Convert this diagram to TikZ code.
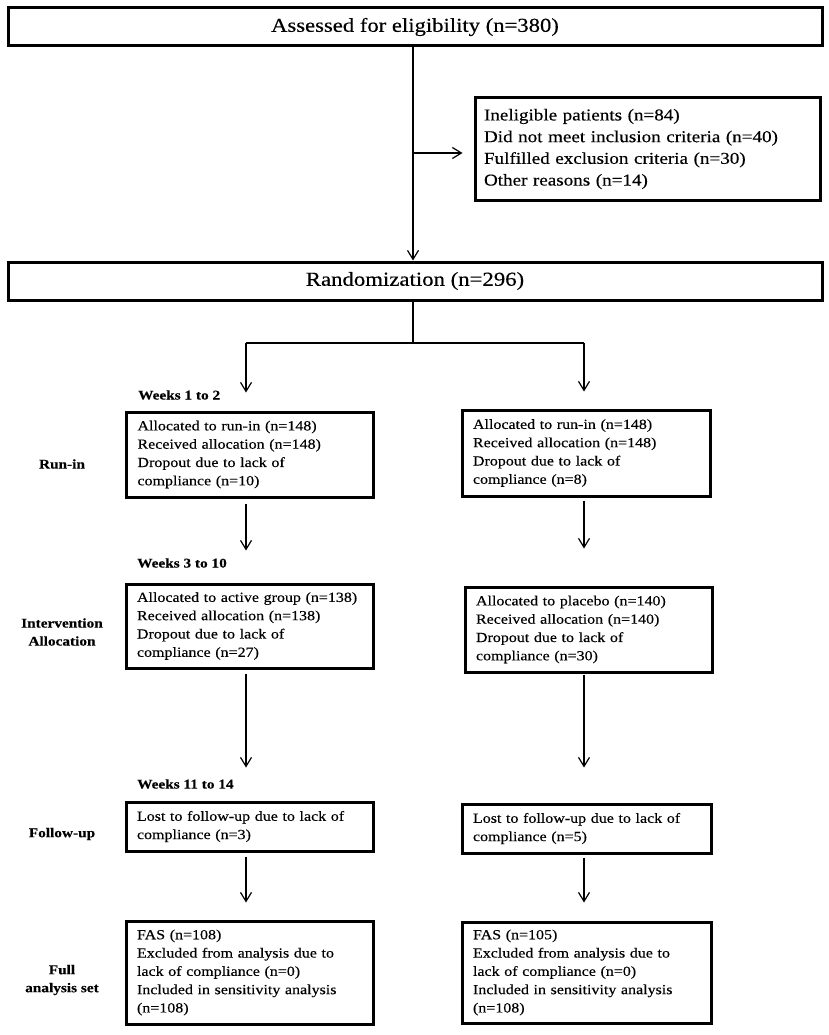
\documentclass[tikz,border=0pt]{standalone}
\usepackage{fontspec}
\setmainfont[FakeStretch=1.15,FakeBold=0.3]{Liberation Serif}
\usetikzlibrary{arrows.meta}
\begin{document}
\begin{tikzpicture}[x=1pt,y=-1pt,
  bigbox/.style={draw,line width=3pt,minimum width=814pt,minimum height=38pt,inner sep=0pt},
  armbox/.style={draw,line width=3pt,inner xsep=11pt,inner ysep=0pt,text width=225pt,align=left,
    font=\fontsize{13.9}{18.3}\selectfont},
  exbox/.style={draw,line width=3pt,inner xsep=9pt,inner ysep=0pt,text width=327pt,align=left,
    minimum height=102pt,font=\fontsize{16.6}{21.7}\selectfont},
  wk/.style={anchor=west,inner sep=0pt,font=\fontsize{13.3}{18}\selectfont\bfseries},
  lab/.style={align=center,inner sep=0pt,font=\fontsize{13.3}{18}\selectfont\bfseries},
  arr/.style={line width=1.2pt,-{Straight Barb[length=9pt,width=11pt,line width=1.2pt]}},
  ln/.style={line width=1.2pt}
]
\useasboundingbox (0,0) rectangle (829,1035);
\fill[white] (0,0) rectangle (829,1035);

% main boxes
\node[bigbox,font=\fontsize{19.7}{24}\selectfont] (top) at (415,27) {Assessed for eligibility (n=380)};
\node[exbox] (excl) at (647.5,149) {Ineligible patients (n=84)\\Did not meet inclusion criteria (n=40)\\Fulfilled exclusion criteria (n=30)\\Other reasons (n=14)};
\node[bigbox,font=\fontsize{19.8}{24}\selectfont] (rand) at (415,281) {Randomization (n=296)};

% column coordinates
\coordinate (cx) at (413,0);
\coordinate (br) at (413,153);
\coordinate (split) at (413,343);
\coordinate (colL) at (246,0);
\coordinate (colR) at (584,0);

% arm boxes
\node[armbox,minimum height=85pt] (L1) at (250,454.5) {Allocated to run-in (n=148)\\Received allocation (n=148)\\Dropout due to lack of\\compliance (n=10)};
\node[armbox,minimum height=86pt,text width=226pt] (R1) at (586,453) {Allocated to run-in (n=148)\\Received allocation (n=148)\\Dropout due to lack of\\compliance (n=8)};
\node[armbox,minimum height=84pt] (L2) at (249.5,626) {Allocated to active group (n=138)\\Received allocation (n=138)\\Dropout due to lack of\\compliance (n=27)};
\node[armbox,minimum height=85pt] (R2) at (588.5,629.5) {Allocated to placebo (n=140)\\Received allocation (n=140)\\Dropout due to lack of\\compliance (n=30)};
\node[armbox,minimum height=49pt] (L3) at (249.5,826.5) {Lost to follow-up due to lack of\\compliance (n=3)};
\node[armbox,minimum height=49pt,text width=227pt] (R3) at (586.5,828.5) {Lost to follow-up due to lack of\\compliance (n=5)};
\node[armbox,minimum height=103pt] (L4) at (249.5,972.5) {FAS (n=108)\\Excluded from analysis due to\\lack of compliance (n=0)\\Included in sensitivity analysis\\(n=108)};
\node[armbox,minimum height=101pt,text width=227pt] (R4) at (586.5,972.5) {FAS (n=105)\\Excluded from analysis due to\\lack of compliance (n=0)\\Included in sensitivity analysis\\(n=108)};

% week labels
\node[wk] (w1) at (138,395) {Weeks 1 to 2};
\node[wk] (w2) at (137,563) {Weeks 3 to 10};
\node[wk] (w3) at (137,784) {Weeks 11 to 14};

% row labels
\node[lab] (r1) at (62,464) {Run-in};
\node[lab] (r2) at (62,632) {Intervention\\Allocation};
\node[lab] (r3) at (62,834) {Follow-up};
\node[lab] (r4) at (62,980) {Full\\analysis set};

% connectors
\draw[arr] (top.south -| cx) -- (rand.north -| cx);
\draw[arr,shorten >=11pt] (br) -- (br -| excl.west);
\draw[ln] (rand.south -| split) -- (split);
\draw[ln] (colL |- split) -- (colR |- split);
\draw[arr,shorten >=18pt] (colL |- split) -- (L1.north -| colL);
\draw[arr,shorten >=17pt] (colR |- split) -- (R1.north -| colR);

\draw[arr,shorten <=5pt,shorten >=32pt] (L1.south -| colL) -- (L2.north -| colL);
\draw[arr,shorten <=3pt,shorten >=37pt] (R1.south -| colR) -- (R2.north -| colR);
\draw[arr,shorten <=4pt,shorten >=33pt] (L2.south -| colL) -- (L3.north -| colL);
\draw[arr,shorten <=1pt,shorten >=35pt] (R2.south -| colR) -- (R3.north -| colR);
\draw[arr,shorten <=4pt,shorten >=17pt] (L3.south -| colL) -- (L4.north -| colL);
\draw[arr,shorten <=3pt,shorten >=18pt] (R3.south -| colR) -- (R4.north -| colR);
\end{tikzpicture}
\end{document}
